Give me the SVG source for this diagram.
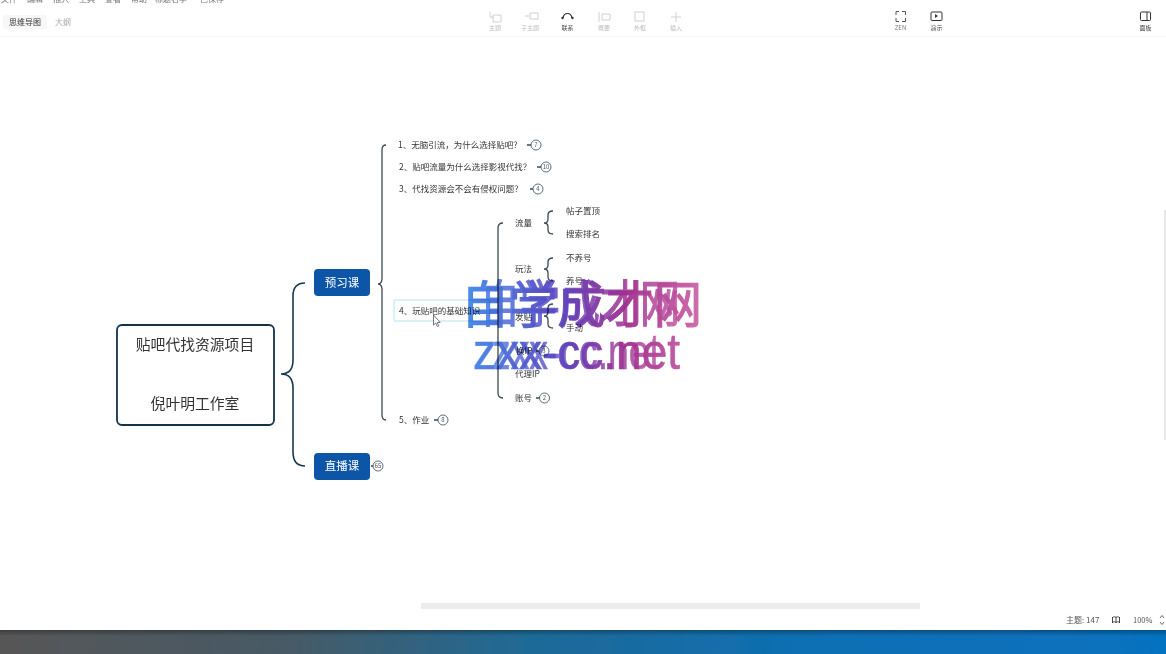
<svg xmlns="http://www.w3.org/2000/svg" width="1166" height="654" viewBox="0 0 1166 654">
<defs>
<linearGradient id="wm" gradientUnits="userSpaceOnUse" x1="460" y1="0" x2="705" y2="0">
<stop offset="0" stop-color="#3f8ceb"/><stop offset="0.4" stop-color="#5a45c0"/><stop offset="0.68" stop-color="#a0308f"/><stop offset="1" stop-color="#cf68a8"/>
</linearGradient>
<linearGradient id="bar" x1="0" y1="0" x2="1" y2="0">
<stop offset="0" stop-color="#575757"/><stop offset="0.25" stop-color="#465a66"/><stop offset="0.45" stop-color="#1f6a96"/><stop offset="0.7" stop-color="#0d6fb4"/><stop offset="1" stop-color="#0672bf"/>
</linearGradient>
<linearGradient id="barTop" x1="0" y1="0" x2="0" y2="1">
<stop offset="0" stop-color="#000" stop-opacity="0.3"/><stop offset="1" stop-color="#000" stop-opacity="0"/>
</linearGradient>
<filter id="soft" x="0" y="0" width="100%" height="100%"><feGaussianBlur stdDeviation="0.4"/></filter>
</defs>
<style>
text{font-family:"Noto Sans CJK SC","Liberation Sans",sans-serif}
.t{font-size:8.500px;fill:#333}
.ui{font-size:6px;fill:#bbb;text-anchor:middle}
.uid{font-size:6px;fill:#444;text-anchor:middle}
.menu{font-size:8px;fill:#777}
.ic{fill:none;stroke:#d0d0d0;stroke-width:1}
.icd{fill:none;stroke:#333;stroke-width:1.2}
.br{fill:none;stroke:#17384f;stroke-width:1.6}
.ln{fill:none;stroke:#3d4a52;stroke-width:1.300}
.cc{fill:#fff;stroke:#2c4a5c;stroke-width:.8}
.cn{font-size:6px;fill:#555;text-anchor:middle}
.top{fill:#0b55a6}
.topt{font-size:11.500px;fill:#fff;text-anchor:middle}
.wm1{font-size:50px;fill:url(#wm);stroke:url(#wm);stroke-width:1.200;font-family:"Noto Sans CJK SC",sans-serif}
.wm2{font-size:50px;fill:url(#wm);stroke:url(#wm);stroke-width:.6;font-family:"Liberation Sans",sans-serif}
#watermark{mix-blend-mode:multiply}
</style>
<g filter="url(#soft)">
<rect width="1166" height="654" fill="#fff"/>
<g id="ui-top">
<text class="menu" x="1" y="2">文件</text><text class="menu" x="27" y="2">编辑</text><text class="menu" x="53" y="2">插入</text><text class="menu" x="79" y="2">工具</text><text class="menu" x="105" y="2">查看</text><text class="menu" x="131" y="2">帮助</text><text class="menu" x="155" y="2">标题名字</text><text class="menu" x="200" y="2" fill="#bbb">已保存</text>
<rect x="3" y="15" width="44" height="14" rx="2" fill="#f7f7f7"/>
<text x="25" y="24.500" font-size="8" fill="#333" text-anchor="middle">思维导图</text>
<text x="63" y="24.500" font-size="8" fill="#aaa" text-anchor="middle">大纲</text>
<path class="ic" d="M490 12v5h4M493 15h8v7h-8z"/><text class="ui" x="495" y="30">主题</text>
<path class="ic" d="M525 16h4M530 13h8v6h-8z"/><text class="ui" x="530" y="30">子主题</text>
<path class="icd" d="M563 18c1-6 8-6 9 0"/><circle cx="562.500" cy="18" r="1.200" fill="#333"/><circle cx="572.500" cy="18" r="1.200" fill="#333"/><text class="uid" x="567.500" y="30">联系</text>
<path class="ic" d="M599 12v10M602 14h8v6h-8z"/><text class="ui" x="604" y="30">概要</text>
<rect class="ic" x="635" y="12" width="9" height="9"/><text class="ui" x="640" y="30">外框</text>
<path class="ic" d="M676 12v10M671 17h10"/><text class="ui" x="676" y="30">插入</text>
<path d="M896 15v-3.500h3M902 11.500h3.500v3.500M905.500 18v3.500h-3.500M899 21.500h-3v-3.500" fill="none" stroke="#555" stroke-width="1"/><text class="ui" x="900.500" y="30" style="fill:#777">ZEN</text>
<rect x="931" y="12" width="11" height="8.500" rx="1" fill="none" stroke="#333"/><path d="M935 14l3 2-3 2z" fill="#333"/><text class="uid" x="936.500" y="30">演示</text>
<rect x="1140.500" y="12" width="10" height="8.500" rx="1" fill="none" stroke="#333"/><path d="M1147 12v8.500" stroke="#333" fill="none"/><text class="uid" x="1145.500" y="30">面板</text>
<path d="M0 36.500h1166" stroke="#f8f8f8"/>
</g>
<g id="connectors">
<path class="br" d="M305 283c-8 0-12 4-12 13v64c0 9-4 14-12 14 8 0 12 5 12 14v64c0 9 4 14 12 14"/>
<path class="ln" d="M386 145c-3 0-4 2-4 5v128c0 4-1 6-4 6 3 0 4 2 4 6v125c0 3 1 5 4 5"/>
<path class="ln" d="M503 223c-3 0-5 2-5 5v165c0 3 2 5 5 5"/>
<path class="ln" d="M553 211c-3 0-5 1-5 4v4c0 3-1 4-4 4 3 0 4 1 4 4v3c0 3 2 4 5 4"/>
<path class="ln" d="M553 258c-3 0-5 1-5 4v3c0 3-1 4-4 4 3 0 4 1 4 4v4c0 3 2 4 5 4"/>
<path class="ln" d="M553 304c-3 0-5 1-5 4v4c0 3-1 4-4 4 3 0 4 1 4 4v4c0 3 2 4 5 4"/>
<path class="ln" d="M527 145h4M537 167h4M530 189h3M434 420h4M371 466h3M536 398h4M536 351h4"/>
</g>
<g id="root"><rect x="117" y="325" width="157" height="100" rx="5" fill="#fff" stroke="#12324a" stroke-width="1.800"/>
<text x="195" y="350" font-size="14.800" fill="#333" text-anchor="middle">贴吧代找资源项目</text>
<text x="195" y="409" font-size="14.800" fill="#333" text-anchor="middle">倪叶明工作室</text></g>
<g id="n-preview"><rect class="top" x="314" y="269" width="56" height="27" rx="4"/><text class="topt" x="342" y="287">预习课</text></g>
<g id="n-live"><rect class="top" x="314" y="453" width="56" height="27" rx="4"/><text class="topt" x="342" y="470">直播课</text></g>
<g id="n-live-c"><circle class="cc" cx="378" cy="466" r="5"/><text class="cn" x="378" y="468">65</text></g>
<g id="n1"><text class="t" x="398" y="148">1、无脑引流，为什么选择贴吧？</text><circle class="cc" cx="536" cy="145" r="5"/><text class="cn" x="536" y="147">7</text></g>
<g id="n2"><text class="t" x="399" y="170">2、贴吧流量为什么选择影视代找？</text><circle class="cc" cx="546" cy="167" r="5"/><text class="cn" x="546" y="169">10</text></g>
<g id="n3"><text class="t" x="399" y="192">3、代找资源会不会有侵权问题？</text><circle class="cc" cx="538" cy="189" r="5"/><text class="cn" x="538" y="191">4</text></g>
<g id="n4"><rect x="394" y="300" width="96" height="21" rx="1" fill="#fff" stroke="#b5e2ee"/><text class="t" x="399" y="314">4、玩贴吧的基础知识</text></g>
<g id="n5"><text class="t" x="399" y="423">5、作业</text><circle class="cc" cx="443" cy="420" r="5"/><text class="cn" x="443" y="422">8</text></g>
<g id="a1"><text class="t" x="515" y="226">流量</text></g>
<g id="a11"><text class="t" x="566" y="214">帖子置顶</text></g>
<g id="a12"><text class="t" x="566" y="237">搜索排名</text></g>
<g id="a2"><text class="t" x="515" y="272">玩法</text></g>
<g id="a21"><text class="t" x="566" y="261">不养号</text></g>
<g id="a22"><text class="t" x="566" y="284">养号</text></g>
<g id="a3"><text class="t" x="515" y="320">发贴</text></g>
<g id="a32"><text class="t" x="566" y="331">手动</text></g>
<g id="a4"><text class="t" x="516" y="354">换IP</text><circle class="cc" cx="544" cy="351" r="5"/><text class="cn" x="544" y="353">3</text></g>
<g id="a5"><text class="t" x="515" y="377">代理IP</text></g>
<g id="a6"><text class="t" x="515" y="401">账号</text><circle class="cc" cx="544.500" cy="398" r="5"/><text class="cn" x="544.500" y="400">2</text></g>
<path id="cursor" d="M433.500 315v10l2.200-2 1.600 3.500 1.500-.7-1.600-3.300h3z" fill="#fff" stroke="#555" stroke-width=".8"/>
<g id="watermark">
<text class="wm1" x="480" y="322" textLength="200" lengthAdjust="spacingAndGlyphs" opacity=".85">自学成才网</text>
<text class="wm1" x="461" y="323" textLength="241" lengthAdjust="spacingAndGlyphs" opacity=".95">自学成才网</text>
<text class="wm2" x="492" y="369" textLength="168" lengthAdjust="spacingAndGlyphs" opacity=".8">zxx-cc.net</text>
<text class="wm2" x="473" y="369" textLength="207" lengthAdjust="spacingAndGlyphs" opacity=".95">zxx-cc.net</text>
</g>
<g id="ui-bottom">
<rect x="421" y="603" width="499" height="6" fill="#ececec"/>
<path d="M1165 210v230" stroke="#e8e8e8" stroke-width="2"/>
<text x="1066" y="623" font-size="8" fill="#555">主题: 147</text>
<path d="M1112.500 617v6M1116 617v6M1119.500 617v6M1112.500 617.500c1.500-1 2.500-1 3.500 0 1-1 2-1 3.500 0M1112.500 622.500c1.500-1 2.500-1 3.500 0 1-1 2-1 3.500 0" fill="none" stroke="#333" stroke-width=".9"/>
<text x="1133" y="623" font-size="7.500" fill="#555">100%</text>
<path d="M1160 618l2-2.500 2 2.500M1160 622l2 2.500 2-2.500" fill="none" stroke="#444" stroke-width=".8"/>
<rect y="630" width="1166" height="24" fill="url(#bar)"/>
<rect y="630" width="1166" height="6" fill="url(#barTop)"/>
</g>
</g>
</svg>
